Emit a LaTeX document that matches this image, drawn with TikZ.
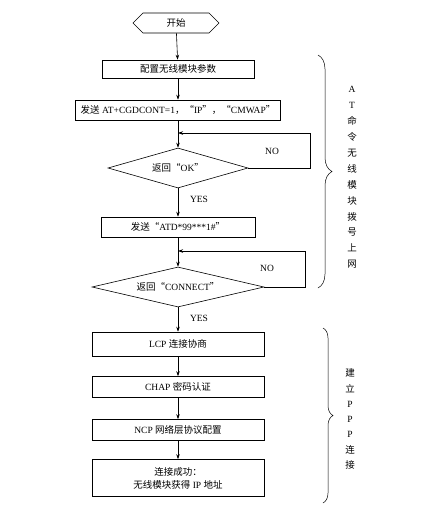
\documentclass[tikz,border=0pt]{standalone}
\usepackage{fontspec}
\setmainfont{Liberation Serif}
\newfontfamily\cjk{Noto Sans CJK SC}
\newcommand{\zh}[1]{{\cjk #1}}
\usetikzlibrary{shapes.geometric,shapes.symbols,arrows.meta,decorations.pathreplacing}

\tikzset{
	stepbox/.style={draw, rectangle, minimum height=20pt, inner sep=1pt, font=\fontsize{9.5}{13}\selectfont, align=center},
	testbox/.style={draw, diamond, aspect=4.3, inner sep=1pt, minimum width=140pt, minimum height=40pt, font=\fontsize{9.5}{12}\selectfont},
	arr/.style={-{Stealth[length=5pt,width=3.5pt]}},
	lbl/.style={font=\fontsize{9.5}{12}\selectfont, inner sep=0pt},
}

\begin{document}
\begin{tikzpicture}[x=1pt,y=-1pt,line width=0.6pt]
			\useasboundingbox (0,0) rectangle (432,509);

			% main column
			\node[draw, signal, signal to=east and west, minimum width=86pt, minimum height=20pt, inner sep=1pt, font=\fontsize{9.5}{12}\selectfont] (start) at (176,23) {\zh{开始}};
			\node[stepbox, minimum width=152pt, minimum height=18pt] (cfg) at (178,69) {\zh{配置无线模块参数}};
			\node[stepbox, minimum width=205pt] (cgd) at (178,110) {\zh{发送} AT+CGDCONT=1\zh{，“}IP\zh{”，“}CMWAP\zh{”}};
			\node[testbox] (ok) at (178,168) {\zh{返回“}OK\zh{”}};
			\node[stepbox, minimum width=154pt] (atd) at (178,227) {\zh{发送“}ATD*99***1\#\zh{”}};
			\node[testbox, minimum width=172pt] (conn) at (178,287) {\zh{返回“}CONNECT\zh{”}};
			\node[stepbox, minimum width=172pt, minimum height=24pt] (lcp) at (178,344) {LCP \zh{连接协商}};
			\node[stepbox, minimum width=172pt, minimum height=21pt] (chap) at (178,387) {CHAP \zh{密码认证}};
			\node[stepbox, minimum width=172pt, minimum height=21pt] (ncp) at (178,430) {NCP \zh{网络层协议配置}};
			\node[stepbox, minimum width=172pt, minimum height=37pt] (done) at (178,478) {\zh{连接成功：}\\\zh{无线模块获得} IP \zh{地址}};

			% loop points
			\coordinate (okin) at (178,133);
			\coordinate (okback) at (310,133);
			\coordinate (connin) at (178,251);
			\coordinate (connback) at (305,251);

			\draw[arr] (start) -- (cfg);
			\draw[arr] (cfg) -- (cgd);
			\draw[arr] (cgd) -- (ok);
			\draw[arr] (ok) -- (atd);
			\draw[arr] (atd) -- (conn);
			\draw[arr] (conn) -- (lcp);
			\draw[arr] (lcp) -- (chap);
			\draw[arr] (chap) -- (ncp);
			\draw[arr] (ncp) -- (done);

			\draw[arr] (ok.east) -- (ok.east -| okback) -- (okback) -- (okin);
			\draw[arr] (conn.east) -- (conn.east -| connback) -- (connback) -- (connin);

			\node[lbl] (okno) at (272,151) {NO};
			\node[lbl] (okyes) at (199,199) {YES};
			\node[lbl] (connno) at (267,268) {NO};
			\node[lbl] (connyes) at (199,318) {YES};

			% braces
			\draw[line width=0.5pt, decorate, decoration={brace, amplitude=14pt}] (318,55) -- (318,288);
			\draw[line width=0.5pt, decorate, decoration={brace, amplitude=10pt}] (323,328) -- (323,503);

			\node[lbl, align=center, font=\fontsize{9.5}{15.9}\selectfont] (atgrp) at (352,177.5) {A\\T\\\zh{命}\\\zh{令}\\\zh{无}\\\zh{线}\\\zh{模}\\\zh{块}\\\zh{拨}\\\zh{号}\\\zh{上}\\\zh{网}};
			\node[lbl, align=center, font=\fontsize{9.5}{15.3}\selectfont] (pppgrp) at (350,419) {\zh{建}\\\zh{立}\\P\\P\\P\\\zh{连}\\\zh{接}};
		\end{tikzpicture}
\end{document}
